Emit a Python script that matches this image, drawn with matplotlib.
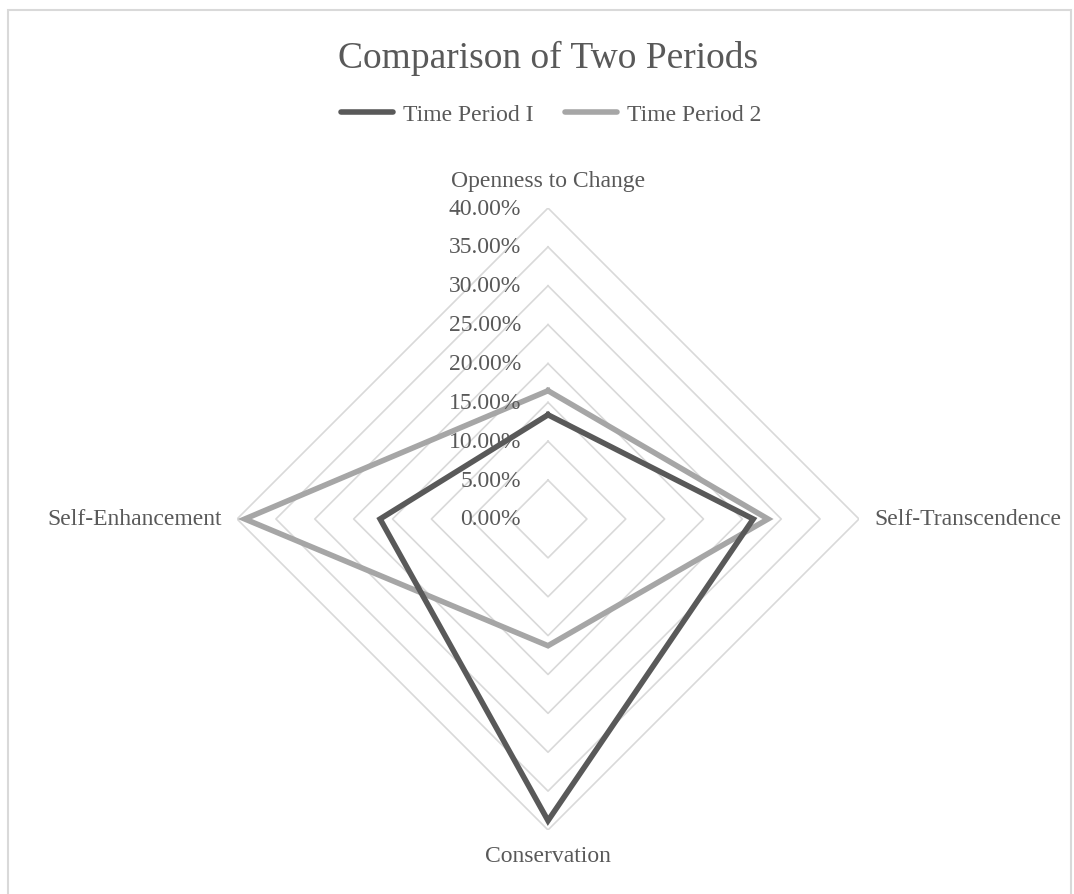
import numpy as np
import matplotlib.pyplot as plt
from matplotlib.patches import Rectangle
from matplotlib.transforms import offset_copy

# Data
categories = ["Openness to Change", "Self-Transcendence", "Conservation", "Self-Enhancement"]
period_1 = [0.134, 0.264, 0.388, 0.216]
period_2 = [0.165, 0.283, 0.163, 0.390]
ticks = [0.0, 0.05, 0.10, 0.15, 0.20, 0.25, 0.30, 0.35, 0.40]
series_names = ["Time Period I", "Time Period 2"]

TEXT = "#595959"
GRID = "#D9D9D9"
DARK = "#595959"
LIGHT = "#A6A6A6"
FONT = "Liberation Serif"
W, H = 1074, 895

fig = plt.figure(figsize=(W / 100, H / 100), dpi=100)

# chart area border (bottom edge runs off the image)
fig.add_artist(Rectangle((8 / W, -0.05), (1071 - 8) / W, 1.05 - 11 / H,
                         transform=fig.transFigure, fill=False,
                         edgecolor=GRID, lw=1.5))

ax = fig.add_axes([0.2207, 0.0715, 0.5791, 0.695], projection="polar")
ax.set_theta_zero_location("N")
ax.set_theta_direction(-1)
ax.set_ylim(0, 0.4)
ax.grid(False)
ax.spines["polar"].set_visible(False)
ax.set_xticks([])
ax.set_yticks([])
ax.patch.set_alpha(0)

angles = np.linspace(0, 2 * np.pi, len(categories), endpoint=False)
closed = np.append(angles, angles[0])

# polygon gridlines
for t in ticks[1:]:
    ax.plot(closed, [t] * len(closed), color=GRID, lw=1.2, zorder=1)

# series
ax.plot(closed, period_1 + period_1[:1], color=DARK, lw=4, solid_joinstyle="miter",
        label=series_names[0], zorder=3)
ax.plot(closed, period_2 + period_2[:1], color=LIGHT, lw=4, solid_joinstyle="miter",
        label=series_names[1], zorder=2)

# radial labels to the left of the vertical axis
lab_tr = offset_copy(ax.transData, fig=fig, x=-27, y=0, units="dots")
for t in ticks:
    ax.text(0, t, f"{t * 100:.2f}%", transform=lab_tr, ha="right", va="center",
            fontsize=17, color=TEXT, family=FONT)

# category labels
offsets = [(0, 28, "center", "center"), (15, 0, "left", "center"),
           (0, -26, "center", "center"), (-15, 0, "right", "center")]
for a, name, (dx, dy, ha, va) in zip(angles, categories, offsets):
    tr = offset_copy(ax.transData, fig=fig, x=dx, y=dy, units="dots")
    ax.text(a, ticks[-1], name, transform=tr, ha=ha, va=va,
            fontsize=17, color=TEXT, family=FONT)

fig.text(548 / W, 1 - 58 / H, "Comparison of Two Periods", ha="center", va="center",
         fontsize=27, color=TEXT, family=FONT)

leg = fig.legend(loc="center", bbox_to_anchor=(551 / W, 1 - 115 / H), ncol=2,
                 frameon=False, handlelength=2.2, handletextpad=0.42,
                 columnspacing=1.35, prop={"family": FONT, "size": 17})
for line in leg.get_lines():
    line.set_solid_capstyle("round")
for txt in leg.get_texts():
    txt.set_color(TEXT)

fig.savefig("out.png", dpi=100)
